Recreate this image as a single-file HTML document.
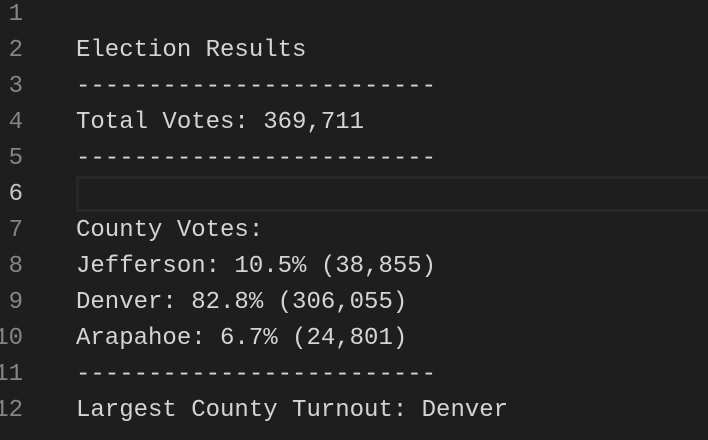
<!DOCTYPE html>
<html><head><meta charset="utf-8"><style>
html,body{margin:0;padding:0;background:#1e1e1e;width:708px;height:440px;overflow:hidden}
.ln,.tx{position:absolute;font-family:"Liberation Mono",monospace;font-size:24px;line-height:36px;height:36px;white-space:pre}
.ln{right:685px;color:#858585;text-align:right}
.tx{left:76px;color:#d4d4d4}
.act{color:#c6c6c6}
#hl{position:absolute;left:76px;top:176px;width:640px;height:30px;border:3px solid #282828;box-sizing:content-box}
</style></head><body>
<div id="hl"></div>
<div id="c"></div>
<script>
var lines=["","Election Results","-------------------------","Total Votes: 369,711","-------------------------","","County Votes:","Jefferson: 10.5% (38,855)","Denver: 82.8% (306,055)","Arapahoe: 6.7% (24,801)","-------------------------","Largest County Turnout: Denver"];
var c=document.getElementById('c');
lines.forEach(function(t,i){
var top=(-3+i*36)+'px';
var n=document.createElement('div');


n.className='ln'+(i==5?' act':'');n.style.top=top;n.textContent=String(i+1);c.appendChild(n);
var d=document.createElement('div');


d.className='tx';d.style.top=top;d.textContent=t;c.appendChild(d);
});
</script>
</body></html>
